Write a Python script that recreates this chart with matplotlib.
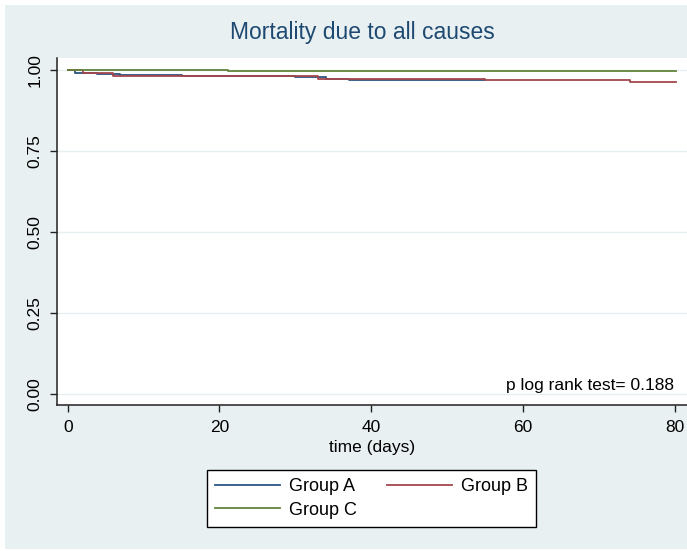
import matplotlib.pyplot as plt
from matplotlib.patches import Rectangle

# Kaplan-Meier step data (time in days, survival)
group_a_t = [0, 1.0, 3.9, 6.9, 15.0, 29.9, 34.0, 37.1]
group_a_s = [1.0, 0.9905, 0.9875, 0.9845, 0.9815, 0.979, 0.974, 0.969]
group_a_end = 55.0

group_b_t = [0, 2.0, 6.0, 33.0, 55.0, 74.1]
group_b_s = [1.0, 0.9915, 0.982, 0.9735, 0.9705, 0.965]
group_b_end = 80.1

group_c_t = [0, 21.1]
group_c_s = [1.0, 0.9965]
group_c_end = 80.1

labels = ["Group A", "Group B", "Group C"]
colors = ["#2b5583", "#a4464d", "#62833c"]

x_ticks = [0, 20, 40, 60, 80]
y_ticks = [0.00, 0.25, 0.50, 0.75, 1.00]

plt.rcParams["font.family"] = ["Liberation Sans", "DejaVu Sans"]

W, H = 687, 551
fig = plt.figure(figsize=(W / 100, H / 100), dpi=100, facecolor="white")
bg = Rectangle((5 / W, 2 / H), 1, 1 - 7 / H, transform=fig.transFigure,
               facecolor="#e9f0f2", edgecolor="none", zorder=-10)
fig.add_artist(bg)

ax = fig.add_axes([57.3 / W, 1 - 405.3 / H, 1 - 57.3 / W, (405.3 - 58) / H])
ax.set_zorder(1)
ax.set_facecolor("white")

curves = [(group_a_t, group_a_s, group_a_end),
          (group_b_t, group_b_s, group_b_end),
          (group_c_t, group_c_s, group_c_end)]
handles = []
for (t, s, end), lab, col in zip(curves, labels, colors):
    h, = ax.step(list(t) + [end], list(s) + [s[-1]], where="post",
                 color=col, linewidth=1.3, label=lab)
    handles.append(h)

ax.set_xlim(-1.37, 81.6)
ax.set_ylim(-0.0359, 1.038)
ax.set_xticks(x_ticks)
ax.set_yticks(y_ticks)
ax.set_yticklabels([f"{v:.2f}" for v in y_ticks], rotation=90, va="center")
ax.grid(axis="y", color="#e6eef0", linewidth=1.0)
ax.set_axisbelow(True)

for side in ["top", "right"]:
    ax.spines[side].set_visible(False)
for side in ["left", "bottom"]:
    ax.spines[side].set_color("#222222")
    ax.spines[side].set_linewidth(1.1)
ax.tick_params(axis="both", length=5, width=1.0, color="#222222",
               labelsize=12.5, pad=5.5, labelcolor="black")

ax.set_xlabel("time (days)", fontsize=12.5, labelpad=4)
ax.text(79.9, 0.011, "p log rank test= 0.188", ha="right", va="baseline", fontsize=12.5)

fig.text(362.5 / W, 1 - 39.3 / H, "Mortality due to all causes", ha="center",
         va="baseline", fontsize=16.5, color="#1e4a72")

order = [0, 2, 1]
leg = fig.legend([handles[i] for i in order], [labels[i] for i in order],
                 loc="center", bbox_to_anchor=(371.5 / W, 1 - 498.5 / H),
                 ncol=2, fontsize=13, frameon=True, fancybox=False,
                 handlelength=3.6, handletextpad=0.5, columnspacing=1.7,
                 labelspacing=0.35, borderpad=0.45)
leg.get_frame().set_edgecolor("black")
leg.get_frame().set_linewidth(1.0)
leg.get_frame().set_facecolor("white")
leg.get_frame().set_alpha(1)

fig.savefig("out.png", dpi=100, facecolor="white")
